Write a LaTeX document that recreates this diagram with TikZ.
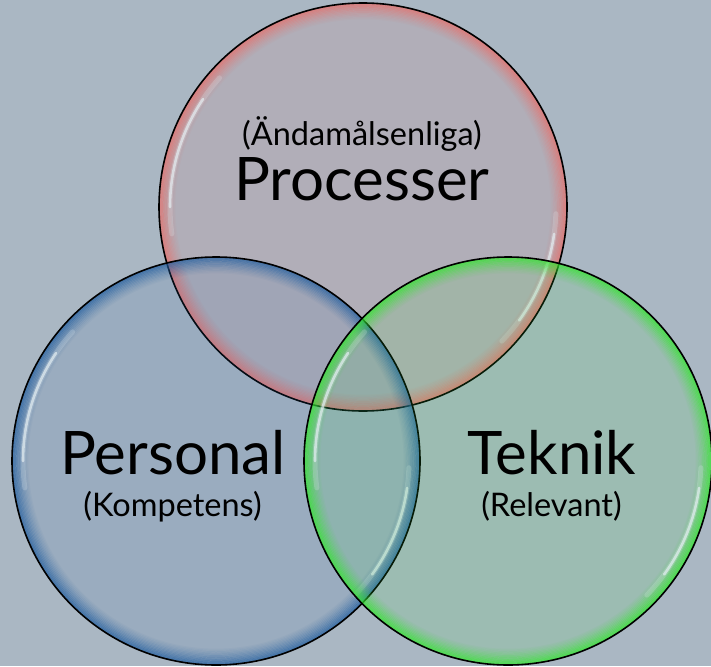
\documentclass[tikz,border=0pt]{standalone}
\usepackage{fontspec}
\setmainfont{Lato}
\definecolor{bg}{RGB}{170,183,195}
\definecolor{redfill}{RGB}{230,110,110}
\definecolor{redrim}{RGB}{232,110,105}
\definecolor{bluefill}{RGB}{40,100,170}
\definecolor{bluerim}{RGB}{35,95,160}
\definecolor{greenfill}{RGB}{60,230,60}
\definecolor{greenrim}{RGB}{50,230,45}
\definecolor{hlcol}{RGB}{228,238,242}
\tikzset{
  bubble/.style={circle, minimum size=408pt, inner sep=0pt, draw=none},
  bigtxt/.style={anchor=base, font=\fontsize{60}{62}\selectfont, text=black, inner sep=0pt},
  smalltxt/.style={anchor=base, font=\fontsize{32.5}{35}\selectfont, text=black, inner sep=0pt},
  hilite/.style={hlcol, line cap=round},
}
% #1 name, #2 fill colour, #3 rim colour
\newcommand{\mybubble}[3]{%
  \fill[#2, fill opacity=0.12] (#1) circle[radius=204];
  \begin{scope}
    \clip (#1) circle[radius=204];
    \foreach \i [evaluate=\i as \op using {0.72*(1-\i/14)^1.5},
                 evaluate=\i as \rr using {204-\i*1.3}] in {0,...,12}
      {\draw[#3, line width=1.5, draw opacity=\op] (#1) circle[radius=\rr];}
  \end{scope}
  % upper-left highlight
  \draw[hilite, line width=5, draw opacity=0.22] ([shift={(-138:193)}]#1) arc[start angle=-138, end angle=-188, radius=193];
  \draw[hilite, line width=2.6, draw opacity=0.7] ([shift={(-146:193)}]#1) arc[start angle=-146, end angle=-180, radius=193];
  % lower-right highlight
  \draw[hilite, line width=5, draw opacity=0.22] ([shift={(2:193)}]#1) arc[start angle=2, end angle=44, radius=193];
  \draw[hilite, line width=2.6, draw opacity=0.7] ([shift={(8:193)}]#1) arc[start angle=8, end angle=36, radius=193];
  \draw[black, line width=1.6] (#1) circle[radius=204];
}
\begin{document}
\begin{tikzpicture}[x=1pt,y=-1pt]
\fill[bg] (0,0) rectangle (711,666);
\useasboundingbox (0,0) rectangle (711,666);

\node[bubble] (proc) at (363,207) {};
\node[bubble] (pers) at (216,461) {};
\node[bubble] (tek)  at (508,461) {};

\mybubble{proc}{redfill}{redrim}
\mybubble{pers}{bluefill}{bluerim}
\mybubble{tek}{greenfill}{greenrim}

\node[smalltxt] (procsub) at (362,145) {(Ändamålsenliga)};
\node[bigtxt]   (proctxt) at (362,200) {Processer};
\node[bigtxt]   (perstxt) at (173,474) {Personal};
\node[smalltxt] (perssub) at (172.5,516) {(Kompetens)};
\node[bigtxt]   (tektxt)  at (552,474) {Teknik};
\node[smalltxt] (teksub)  at (551.5,516) {(Relevant)};
\end{tikzpicture}
\end{document}
